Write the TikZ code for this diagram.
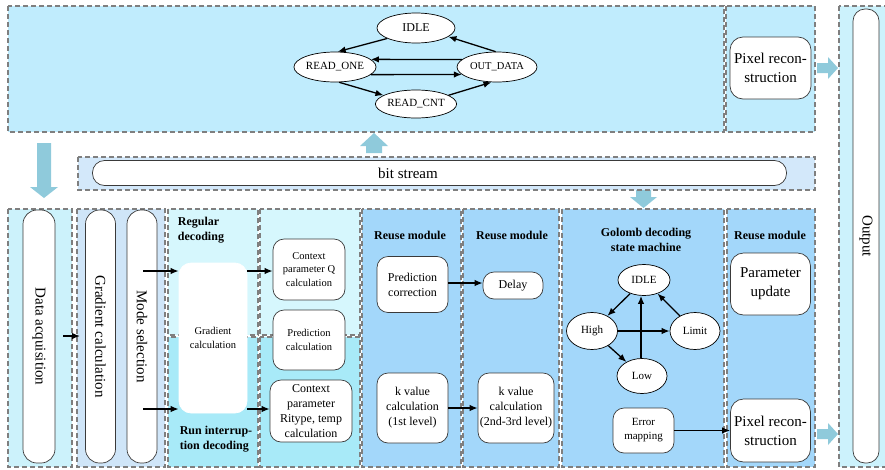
\documentclass[tikz,border=0pt]{standalone}
\usepackage{fontspec}
\setmainfont{Liberation Serif}
\usetikzlibrary{arrows.meta,shapes.geometric}

\definecolor{topfill}{HTML}{C0ECFD}
\definecolor{bitfill}{HTML}{D3E8FA}
\definecolor{acqfill}{HTML}{CCF2FB}
\definecolor{gradfill}{HTML}{CFE5F8}
\definecolor{regfill}{HTML}{D6F7FD}
\definecolor{runfill}{HTML}{A8EAF8}
\definecolor{reusefill}{HTML}{A3D7FA}
\definecolor{outfill}{HTML}{CCF2FC}
\definecolor{blockarrow}{HTML}{8FCADB}
\definecolor{dashgray}{HTML}{7F7F7F}
\definecolor{boxline}{HTML}{3A3A3A}

\tikzset{
  panel/.style={draw=dashgray, line width=1.2pt, dash pattern=on 5pt off 3pt},
  box/.style={draw=boxline, line width=0.7pt, fill=white, rounded corners=11pt,
    align=center, inner sep=1pt},
  tall/.style={box, rounded corners=14pt, rotate=-90},
  state/.style={ellipse, draw=black, line width=0.7pt, fill=white, inner sep=0pt},
  arr/.style={-{Latex[length=8pt,width=6.5pt]}, line width=1.3pt},
  ttl/.style={font=\bfseries\fontsize{12}{15.5}\selectfont},
  fbig/.style={font=\fontsize{15}{19}\selectfont},
  fmid/.style={font=\fontsize{12}{15}\selectfont},
  fsmall/.style={font=\fontsize{10.5}{13.5}\selectfont},
  blk/.style={fill=blockarrow, draw=none},
}

\begin{document}
\begin{tikzpicture}[x=1pt,y=-1pt]
\useasboundingbox (0,0) rectangle (885,469);
\clip (0,0) rectangle (885,469);

% ---------- upper row: bit-stream reading state machine ----------
\draw[panel, fill=topfill] (8,6) rectangle (724,132);
\draw[panel, fill=topfill] (726,6) rectangle (815,132);

\node[state, minimum width=78, minimum height=30, font=\fontsize{12}{14}\selectfont] (idle) at (416,28) {IDLE};
\node[state, minimum width=79, minimum height=30, font=\fontsize{11}{13}\selectfont] (ro) at (335,67) {READ\_ONE};
\node[state, minimum width=78, minimum height=28, font=\fontsize{11}{13}\selectfont] (rc) at (416,104) {READ\_CNT};
\node[state, minimum width=80, minimum height=30, font=\fontsize{10.5}{13}\selectfont] (od) at (497,67) {OUT\_DATA};

\draw[arr] (idle.200) -- (ro.80);
\draw[arr] (od.168) -- (ro.12);
\draw[arr] (ro.-12) -- (od.-168);
\draw[arr] (ro.-75) -- (rc.165);
\draw[arr] (rc.15) -- (od.-110);
\draw[arr] (od.95) -- (idle.-15);

\node[box, fbig, minimum width=81, minimum height=62, rounded corners=13pt] (prtop) at (770.5,68) {Pixel recon-\\struction};

% output column
\draw[panel, fill=outfill] (839,6) rectangle (895,467);
\node[tall, minimum width=454, minimum height=26, rounded corners=12pt, font=\fontsize{15}{17}\selectfont] (out) at (866,236) {Output};

% block arrows
\fill[blk] (817,63) -- (828,63) -- (828,57) -- (838,68) -- (828,79) -- (828,73) -- (817,73) -- cycle;
\fill[blk] (817,429) -- (828,429) -- (828,423) -- (838,434) -- (828,445) -- (828,439) -- (817,439) -- cycle;
\fill[blk] (366,153) -- (366,146) -- (360,146) -- (374,133) -- (388,146) -- (382,146) -- (382,153) -- cycle;
\fill[blk] (37,143) -- (51,143) -- (51,187) -- (58,187) -- (44,198) -- (30,187) -- (37,187) -- cycle;
\fill[blk] (636,190) -- (651,190) -- (651,197) -- (657,197) -- (643.5,208) -- (630,197) -- (636,197) -- cycle;

% ---------- bit stream ----------
\draw[panel, fill=bitfill] (78,157) rectangle (815,190);
\node[box, minimum width=694, minimum height=25, rounded corners=12pt] (bits) at (439.5,173) {};
\node[font=\fontsize{15}{17}\selectfont] (bitstxt) at (408,173) {bit stream};

% ---------- lower row ----------
\draw[panel, fill=acqfill] (8,209) rectangle (72,467);
\draw[panel, fill=gradfill] (77,209) rectangle (165,467);
\draw[panel, fill=regfill] (168,209) rectangle (258,335);
\draw[panel, fill=runfill] (168,337) rectangle (258,467);
\draw[panel, fill=regfill] (260,209) rectangle (360,335);
\draw[panel, fill=runfill] (260,337) rectangle (360,467);
\draw[panel, fill=reusefill] (362,209) rectangle (461,467);
\draw[panel, fill=reusefill] (463,209) rectangle (559,467);
\draw[panel, fill=reusefill] (562,209) rectangle (724,467);
\draw[panel, fill=reusefill] (727,209) rectangle (815,467);

\node[tall, fbig, minimum width=253, minimum height=32] (acq) at (39,336.5) {Data acquisition};
\node[tall, fbig, minimum width=253, minimum height=30] (gradt) at (100.5,336.5) {Gradient calculation};
\node[tall, fbig, minimum width=253, minimum height=30] (mode) at (142,336.5) {Mode selection};

\node[ttl, align=left] (regt) at (201,230) {Regular\\decoding};
\node[ttl, align=left] (runt) at (216,439) {Run interrup-\\tion decoding};

\node[box, draw=white, fsmall, minimum width=68, minimum height=150, rounded corners=12pt] (gc) at (213,338) {Gradient\\calculation};

\node[box, fsmall, minimum width=72, minimum height=61] (ctxq) at (309,269.5) {Context\\parameter Q\\calculation};
\node[box, fsmall, minimum width=72, minimum height=60] (predc) at (309,340) {Prediction\\calculation};
\node[box, fmid, minimum width=82, minimum height=62] (ritype) at (311,411) {Context\\parameter\\Ritype, temp\\calculation};

\node[ttl] (reu1) at (410,235) {Reuse module};
\node[ttl] (reu2) at (512,235) {Reuse module};
\node[ttl] (reu3) at (770,235) {Reuse module};
\node[ttl, align=center] (golt) at (646,240) {Golomb decoding\\state machine};

\node[box, fmid, minimum width=71, minimum height=56] (pc) at (412.5,284.5) {Prediction\\correction};
\node[box, fmid, minimum width=60, minimum height=27] (delay) at (513,285.5) {Delay};
\node[box, fmid, minimum width=71, minimum height=70] (k1) at (412.5,408) {k value\\calculation\\(1st level)};
\node[box, fmid, minimum width=76, minimum height=70] (k2) at (516,408) {k value\\calculation\\(2nd-3rd level)};

\node[state, minimum width=52, minimum height=31, font=\fontsize{11}{13}\selectfont] (gidle) at (644,280) {IDLE};
\node[state, minimum width=51, minimum height=37, font=\fontsize{11}{13}\selectfont] (high) at (592,331) {High};
\node[state, minimum width=50, minimum height=37, font=\fontsize{11}{13}\selectfont] (limit) at (695,331) {Limit};
\node[state, minimum width=50, minimum height=35, font=\fontsize{11}{13}\selectfont] (low) at (642,376) {Low};
\node[box, font=\fontsize{11}{14}\selectfont, minimum width=61, minimum height=45] (em) at (643.5,430.5) {Error\\mapping};

\draw[arr] (gidle) -- (high);
\draw[arr] (high) -- (limit);
\draw[arr] (high) -- (low);
\draw[arr] (low.north -| 641,0) -- (gidle.south -| 641,0);
\draw[arr] (limit) -- (gidle);

\node[box, fbig, minimum width=80, minimum height=62, rounded corners=13pt] (pu) at (770.5,284) {Parameter\\update};
\node[box, fbig, minimum width=80, minimum height=63, rounded corners=13pt] (prb) at (770.5,430.5) {Pixel recon-\\struction};

% connectors of the lower row
\coordinate (acqout) at (63,336);
\coordinate (gradin) at (80,336);
\coordinate (modeup) at (143,271);
\coordinate (modedn) at (143,409);
\draw[arr] (acqout) -- (gradin);
\draw[arr] (modeup) -- (gc.west |- modeup);
\draw[arr] (modedn) -- (gc.west |- modedn);
\draw[arr] (gc.east |- modeup) -- (ctxq.west |- modeup);
\draw[arr] (gc.east |- modedn) -- (ritype.west |- modedn);
\draw[arr] (pc.east |- 0,283) -- (delay.west |- 0,283);
\draw[arr] (k1.east) -- (k2.west);
\draw[arr] (em.east) -- (prb.west);

\end{tikzpicture}
\end{document}
